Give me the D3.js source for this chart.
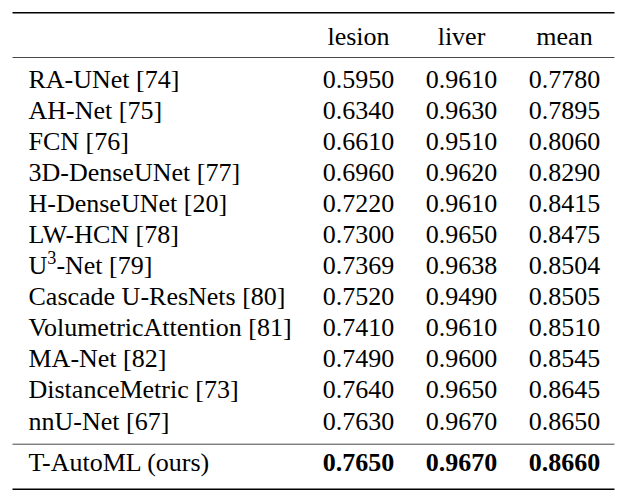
<!DOCTYPE html>
<html><head><meta charset="utf-8">
<script src="https://cdn.jsdelivr.net/npm/d3@7"></script>
<style>
body{margin:0;background:#fff}
svg{display:block}
</style>
</head><body>
<svg id="c" width="625" height="499"></svg>
<script>
const columns = ["lesion", "liver", "mean"];
const methods = ["RA-UNet [74]", "AH-Net [75]", "FCN [76]", "3D-DenseUNet [77]", "H-DenseUNet [20]",
  "LW-HCN [78]", "U^3-Net [79]", "Cascade U-ResNets [80]", "VolumetricAttention [81]", "MA-Net [82]",
  "DistanceMetric [73]", "nnU-Net [67]"];
const lesion = [0.5950, 0.6340, 0.6610, 0.6960, 0.7220, 0.7300, 0.7369, 0.7520, 0.7410, 0.7490, 0.7640, 0.7630];
const liver  = [0.9610, 0.9630, 0.9510, 0.9620, 0.9610, 0.9650, 0.9638, 0.9490, 0.9610, 0.9600, 0.9650, 0.9670];
const mean   = [0.7780, 0.7895, 0.8060, 0.8290, 0.8415, 0.8475, 0.8504, 0.8505, 0.8510, 0.8545, 0.8645, 0.8650];
const oursName = "T-AutoML (ours)";
const oursValues = [0.7650, 0.9670, 0.8660];

const FS = 26;
const svg = d3.select("#c");
const fmt = d3.format(".4f");

const x = d3.scalePoint().domain(columns).range([358.5, 564.5]);
const y = d3.scalePoint().domain(d3.range(methods.length)).range([87.5, 429.5]);
const headerY = 45, oursY = 471;
const leftX = 28.5;

const rules = [
  {y: 12.8, w: 1.4, c: "#000"},
  {y: 57.5, w: 0.9, c: "#333"},
  {y: 444.2, w: 0.9, c: "#333"},
  {y: 489.2, w: 1.4, c: "#000"}
];
svg.selectAll("line.rule").data(rules).join("line")
  .attr("x1", 12.5).attr("x2", 614.5)
  .attr("y1", d => d.y).attr("y2", d => d.y)
  .attr("stroke", d => d.c).attr("stroke-width", d => d.w);

function txt(g, s, px, py, anchor, bold) {
  const t = g.append("text")
    .attr("x", px).attr("y", py)
    .attr("text-anchor", anchor)
    .attr("font-family", '"Liberation Serif"')
    .attr("fill", "#000")
    .attr("font-size", FS);
  if (bold) t.attr("font-weight", "bold");
  const m = s.match(/^(.*)\^(\S)(.*)$/);
  if (m) {
    t.append("tspan").text(m[1]);
    t.append("tspan").attr("font-size", FS * 0.7).attr("dy", -10).text(m[2]);
    t.append("tspan").attr("dy", 10).text(m[3]);
  } else t.text(s);
  return t;
}

const g = svg.append("g");
columns.forEach(c => txt(g, c, x(c), headerY, "middle", false));

const cols = [lesion, liver, mean];
methods.forEach((m, i) => {
  txt(g, m, leftX, y(i), "start", false);
  columns.forEach((c, j) => txt(g, fmt(cols[j][i]), x(c), y(i), "middle", false));
});

txt(g, oursName, leftX, oursY, "start", false);
columns.forEach((c, j) => txt(g, fmt(oursValues[j]), x(c), oursY, "middle", true));
</script>
</body></html>
